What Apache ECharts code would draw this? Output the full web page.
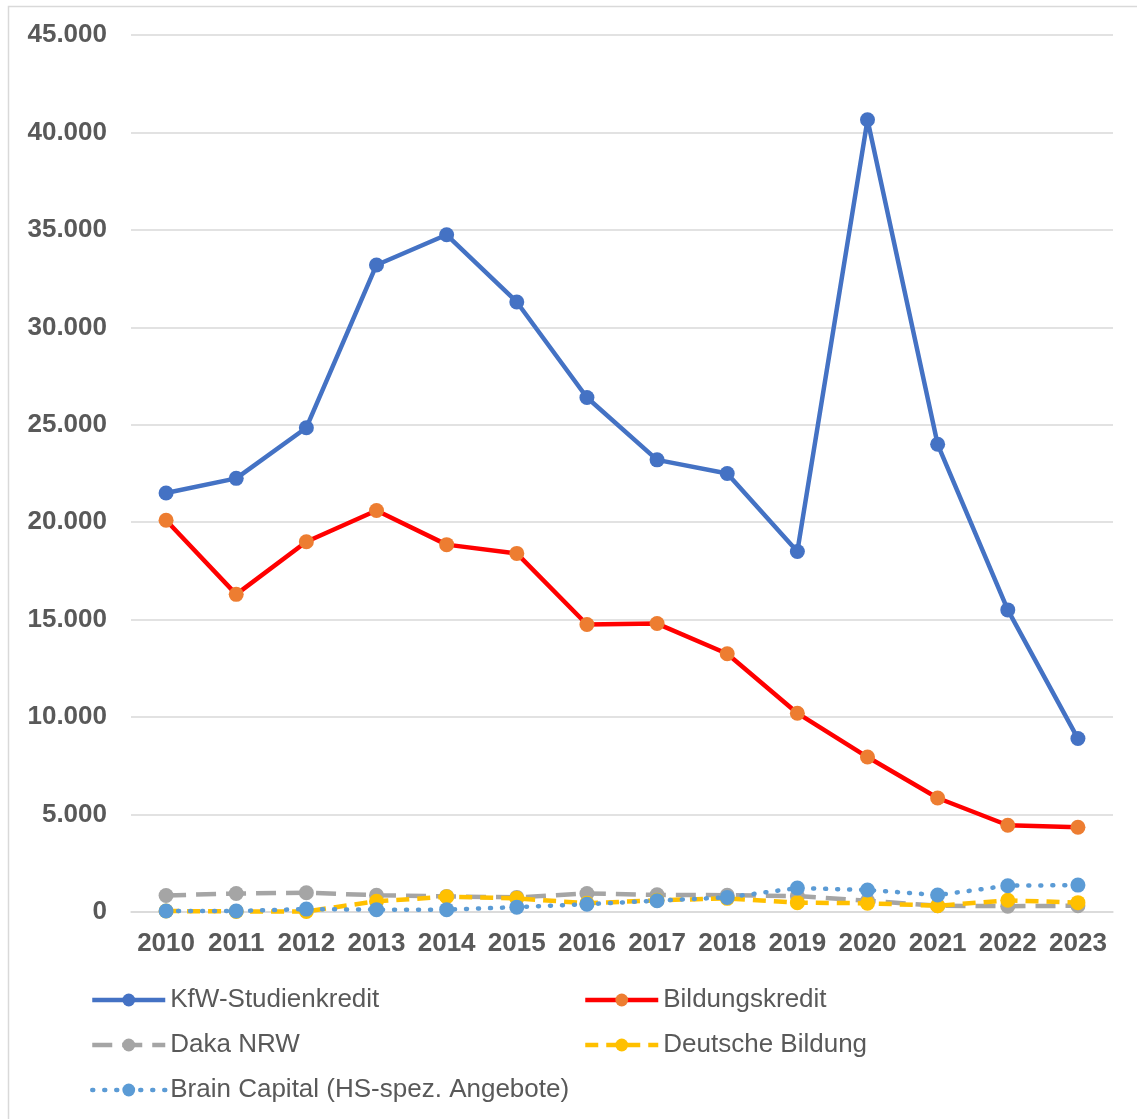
<!DOCTYPE html>
<html><head><meta charset="utf-8">
<script src="https://cdn.jsdelivr.net/npm/echarts@6/dist/echarts.min.js"></script>
<style>html,body{margin:0;padding:0;background:#fff}#c{width:1137px;height:1119px}</style>
</head><body><div id="c"></div>
<script>
const years = ['2010','2011','2012','2013','2014','2015','2016','2017','2018','2019','2020','2021','2022','2023'];
const kfw = [21500,22250,24850,33200,34750,31300,26400,23200,22500,18500,40650,24000,15500,8900];
const bildung = [20100,16300,19000,20600,18850,18400,14750,14800,13250,10200,7950,5850,4450,4350];
const daka = [850,950,990,860,800,750,950,880,860,820,580,320,300,320];
const deutsche = [50,30,30,550,780,700,450,600,700,480,450,320,600,480];
const brain = [50,50,150,120,120,250,400,580,750,1230,1130,870,1350,1380];
const yTicks = [0,5000,10000,15000,20000,25000,30000,35000,40000,45000];

const names = ['KfW-Studienkredit','Bildungskredit','Daka NRW','Deutsche Bildung','Brain Capital (HS-spez. Angebote)'];
const chart = echarts.init(document.getElementById('c'));
const font = 'Liberation Sans, Arial, sans-serif';
function fmt(v){ return v===0 ? '0' : (v/1000).toFixed(0) + '.000'; }
function mk(name, data, lineColor, markColor, type, cap, z){
  return {name, type:'line', data, symbol:'circle', symbolSize:15, z,
    lineStyle:{color:lineColor, width:4.5, type, cap},
    itemStyle:{color:markColor}};
}
const legPos = [[85,982],[578,982],[85,1027],[578,1027],[85,1072]];
chart.setOption({
  animation:false,
  graphic:[{type:'rect', shape:{x:8.5,y:6.5,width:1140,height:1120}, style:{fill:'none', stroke:'#d9d9d9', lineWidth:1.5}}],
  grid:{left:131, right:24, top:35, bottom:207},
  xAxis:{type:'category', data:years, boundaryGap:true,
    axisLine:{lineStyle:{color:'#d9d9d9', width:1.5}}, axisTick:{show:false},
    axisLabel:{color:'#595959', fontSize:26, fontWeight:'bold', fontFamily:font, margin:19, interval:0, hideOverlap:false}},
  yAxis:{type:'value', min:0, max:45000, interval:5000,
    axisLine:{show:false}, axisTick:{show:false},
    splitLine:{lineStyle:{color:'#d9d9d9', width:1.5}},
    axisLabel:{color:'#595959', fontSize:26, fontWeight:'bold', fontFamily:font, margin:24, formatter:fmt}},
  legend: names.map((n,i)=>({data:[n], left:legPos[i][0], top:legPos[i][1], itemWidth:73, itemHeight:16, itemGap:5,
    lineStyle:{width:4.5},
    textStyle:{color:'#595959', fontSize:26, fontFamily:font}})),
  series:[
    mk(names[0], kfw, '#4472C4', '#4472C4', 'solid', 'butt', 10),
    mk(names[1], bildung, '#FF0000', '#ED7D31', 'solid', 'butt', 9),
    mk(names[2], daka, '#A5A5A5', '#A5A5A5', [20,10], 'butt', 6),
    mk(names[3], deutsche, '#FFC000', '#FFC000', [13,8], 'butt', 7),
    mk(names[4], brain, '#5B9BD5', '#5B9BD5', [1,11], 'round', 8)
  ]
});
</script></body></html>
